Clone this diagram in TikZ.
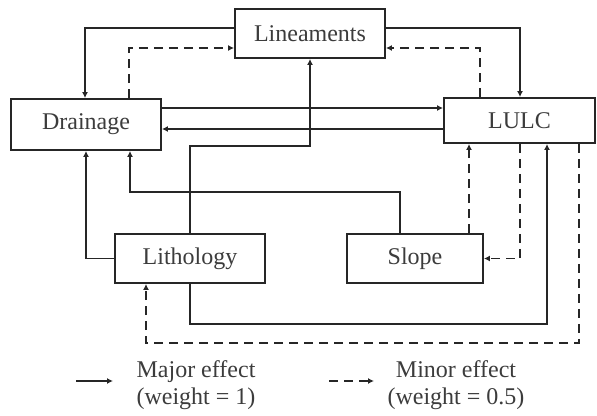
\documentclass[tikz,border=0pt]{standalone}
\usepackage{fontspec}
\setmainfont{Liberation Serif}
\usetikzlibrary{arrows.meta}
\definecolor{ink}{HTML}{262626}
\definecolor{txt}{HTML}{3C3C3C}
\begin{document}
\begin{tikzpicture}[x=1pt,y=-1pt,
  box/.style={draw=ink,line width=1.9pt,rectangle,inner sep=0pt,
    text=txt,font=\fontsize{24}{27}\selectfont},
  major/.style={draw=ink,line width=1.9pt,-{Latex[length=6pt,width=6pt]}},
  minor/.style={major,dash pattern=on 9pt off 6pt},
  legend/.style={text=txt,align=center,font=\fontsize{24}{27}\selectfont}]
\useasboundingbox (0,0) rectangle (597,415);

% factor boxes
\node[box,minimum width=150pt,minimum height=49pt] (lin) at (310,33.5) {Lineaments};
\node[box,minimum width=150pt,minimum height=51pt] (drn) at (86,124.5) {Drainage};
\node[box,minimum width=151pt,minimum height=45pt] (lulc) at (519.5,120.5) {LULC};
\node[box,minimum width=150pt,minimum height=49pt] (lit) at (190,258.5) {Lithology};
\node[box,minimum width=136pt,minimum height=49pt] (slp) at (415,258.5) {Slope};

% Lineaments <-> Drainage
\draw[major] (lin.west |- 0,28) -| (drn.north -| 85,0);
\draw[minor] (drn.north -| 129,0) |- (lin.west |- 0,48);
% Lineaments <-> LULC
\draw[major] (lin.east |- 0,28) -| (lulc.north -| 520,0);
\draw[minor] (lulc.north -| 480,0) |- (lin.east |- 0,48);
% Drainage <-> LULC
\draw[major] (drn.east |- 0,108) -- (lulc.west |- 0,108);
\draw[major] (lulc.west |- 0,129) -- (drn.east |- 0,129);
% Lithology -> Lineaments
\draw[major] (lit.north) -- (190,146) -| (lin.south -| 310,0);
% Slope -> Drainage
\draw[major] (slp.north -| 400,0) -- (400,192) -| (drn.south -| 130,0);
% Lithology -> Drainage
\draw[major] (lit.west) -| (drn.south -| 86,0);
% Slope <-> LULC
\draw[minor] (slp.north -| 469,0) -- (lulc.south -| 469,0);
\draw[minor] (lulc.south -| 520,0) |- (slp.east);
% Lithology <-> LULC
\draw[major] (lit.south) -- (190,324) -| (lulc.south -| 547,0);
\draw[minor] (lulc.south -| 579,0) -- (579,343) -| (lit.south -| 146,0);

% legend
\coordinate (ma) at (76,381);
\coordinate (mb) at (113,381);
\draw[major] (ma) -- (mb);
\node[legend] (mtxt) at (196,385) {Major effect\\(weight = 1)};
\coordinate (na) at (329,381);
\coordinate (nb) at (374,381);
\draw[minor] (na) -- (nb);
\node[legend] (ntxt) at (456,385) {Minor effect\\(weight = 0.5)};
\end{tikzpicture}
\end{document}
